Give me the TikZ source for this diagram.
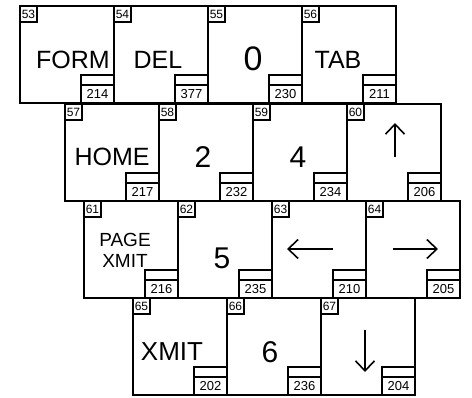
\documentclass[tikz,border=0pt]{standalone}
\usepackage{fontspec}
\setmainfont{Liberation Sans}
\usetikzlibrary{calc,arrows.meta}
\tikzset{>={Straight Barb[length=10pt,width=19pt]}}
\tikzset{
  keyface/.style={draw,line width=2.2pt,anchor=north west,outer sep=0pt,
    minimum width=94pt,minimum height=97pt,inner sep=0pt},
  numbox/.style={draw,line width=1.5pt,anchor=north west,outer sep=0pt,
    minimum width=17pt,minimum height=16pt,inner sep=0pt,font=\fontsize{12}{13}\selectfont},
  codebox/.style={draw,line width=1.5pt,anchor=south east,outer sep=0pt,
    minimum width=33pt,minimum height=18pt,inner sep=0pt,font=\fontsize{13}{14}\selectfont},
  gapbox/.style={draw,line width=1.5pt,anchor=south,outer sep=0pt,
    minimum width=33pt,minimum height=10pt,inner sep=0pt},
  legend/.style={inner sep=0pt,font=\fontsize{25}{28}\selectfont},
  digit/.style={inner sep=0pt,font=\fontsize{30}{32}\selectfont},
  keyarrow/.style={->,line width=1.6pt}
}
% one key: name, left, top, key number, code
\newcommand\keycap[5]{%
  \node[keyface] (#1) at (#2,#3) {};
  \node[numbox] (#1n) at (#1.north west) {#4};
  \node[codebox] (#1c) at (#1.south east) {#5};
  \node[gapbox] (#1g) at (#1c.north) {};
}

\begin{document}
\begin{tikzpicture}[x=1pt,y=-1pt]
  \useasboundingbox (0,0) rectangle (472,398);

  % Keys
  \keycap{k53}{20}{6}{53}{214}
  \keycap{k54}{114}{6}{54}{377}
  \keycap{k55}{208}{6}{55}{230}
  \keycap{k56}{302}{6}{56}{211}
  \keycap{k57}{65}{104}{57}{217}
  \keycap{k58}{159}{104}{58}{232}
  \keycap{k59}{253}{104}{59}{234}
  \keycap{k60}{347}{104}{60}{206}
  \keycap{k61}{84}{201}{61}{216}
  \keycap{k62}{178}{201}{62}{235}
  \keycap{k63}{272}{201}{63}{210}
  \keycap{k64}{366}{201}{64}{205}
  \keycap{k65}{133}{298}{65}{202}
  \keycap{k66}{227}{298}{66}{236}
  \keycap{k67}{321}{298}{67}{204}

  % Legends
  \node[legend] (l53) at ($(k53.center)+(6,5.5)$) {FORM};
  \node[legend] (l54) at ($(k54.center)+(-3,5.5)$) {DEL};
  \node[digit,font=\fontsize{34}{36}\selectfont] (l55) at ($(k55.center)+(-2,4.5)$) {0};
  \node[legend] (l56) at ($(k56.center)+(-11,5.5)$) {TAB};
  \node[legend] (l57) at ($(k57.center)+(0,4.5)$) {HOME};
  \node[digit] (l58) at ($(k58.center)+(-3,4.5)$) {2};
  \node[digit] (l59) at ($(k59.center)+(-2,4.5)$) {4};
  \node[legend,align=center,font=\fontsize{19}{21}\selectfont] (l61) at ($(k61.center)+(-6,0.5)$) {PAGE\\XMIT};
  \node[digit] (l62) at ($(k62.center)+(-3,8.5)$) {5};
  \node[legend,font=\fontsize{26}{28}\selectfont] (l65) at ($(k65.center)+(-8,5.5)$) {XMIT};
  \node[digit] (l66) at ($(k66.center)+(-4,5.5)$) {6};

  % Arrow keys
  \draw[keyarrow] ($(k60.center)+(1,4.5)$) -- ($(k60.center)+(1,-29.5)$);
  \draw[keyarrow] ($(k63.center)+(14,-0.5)$) -- ($(k63.center)+(-32,-0.5)$);
  \draw[keyarrow] ($(k64.center)+(-20,-0.5)$) -- ($(k64.center)+(25,-0.5)$);
  \draw[keyarrow] ($(k67.center)+(-3,-16.5)$) -- ($(k67.center)+(-3,25.5)$);
\end{tikzpicture}
\end{document}
